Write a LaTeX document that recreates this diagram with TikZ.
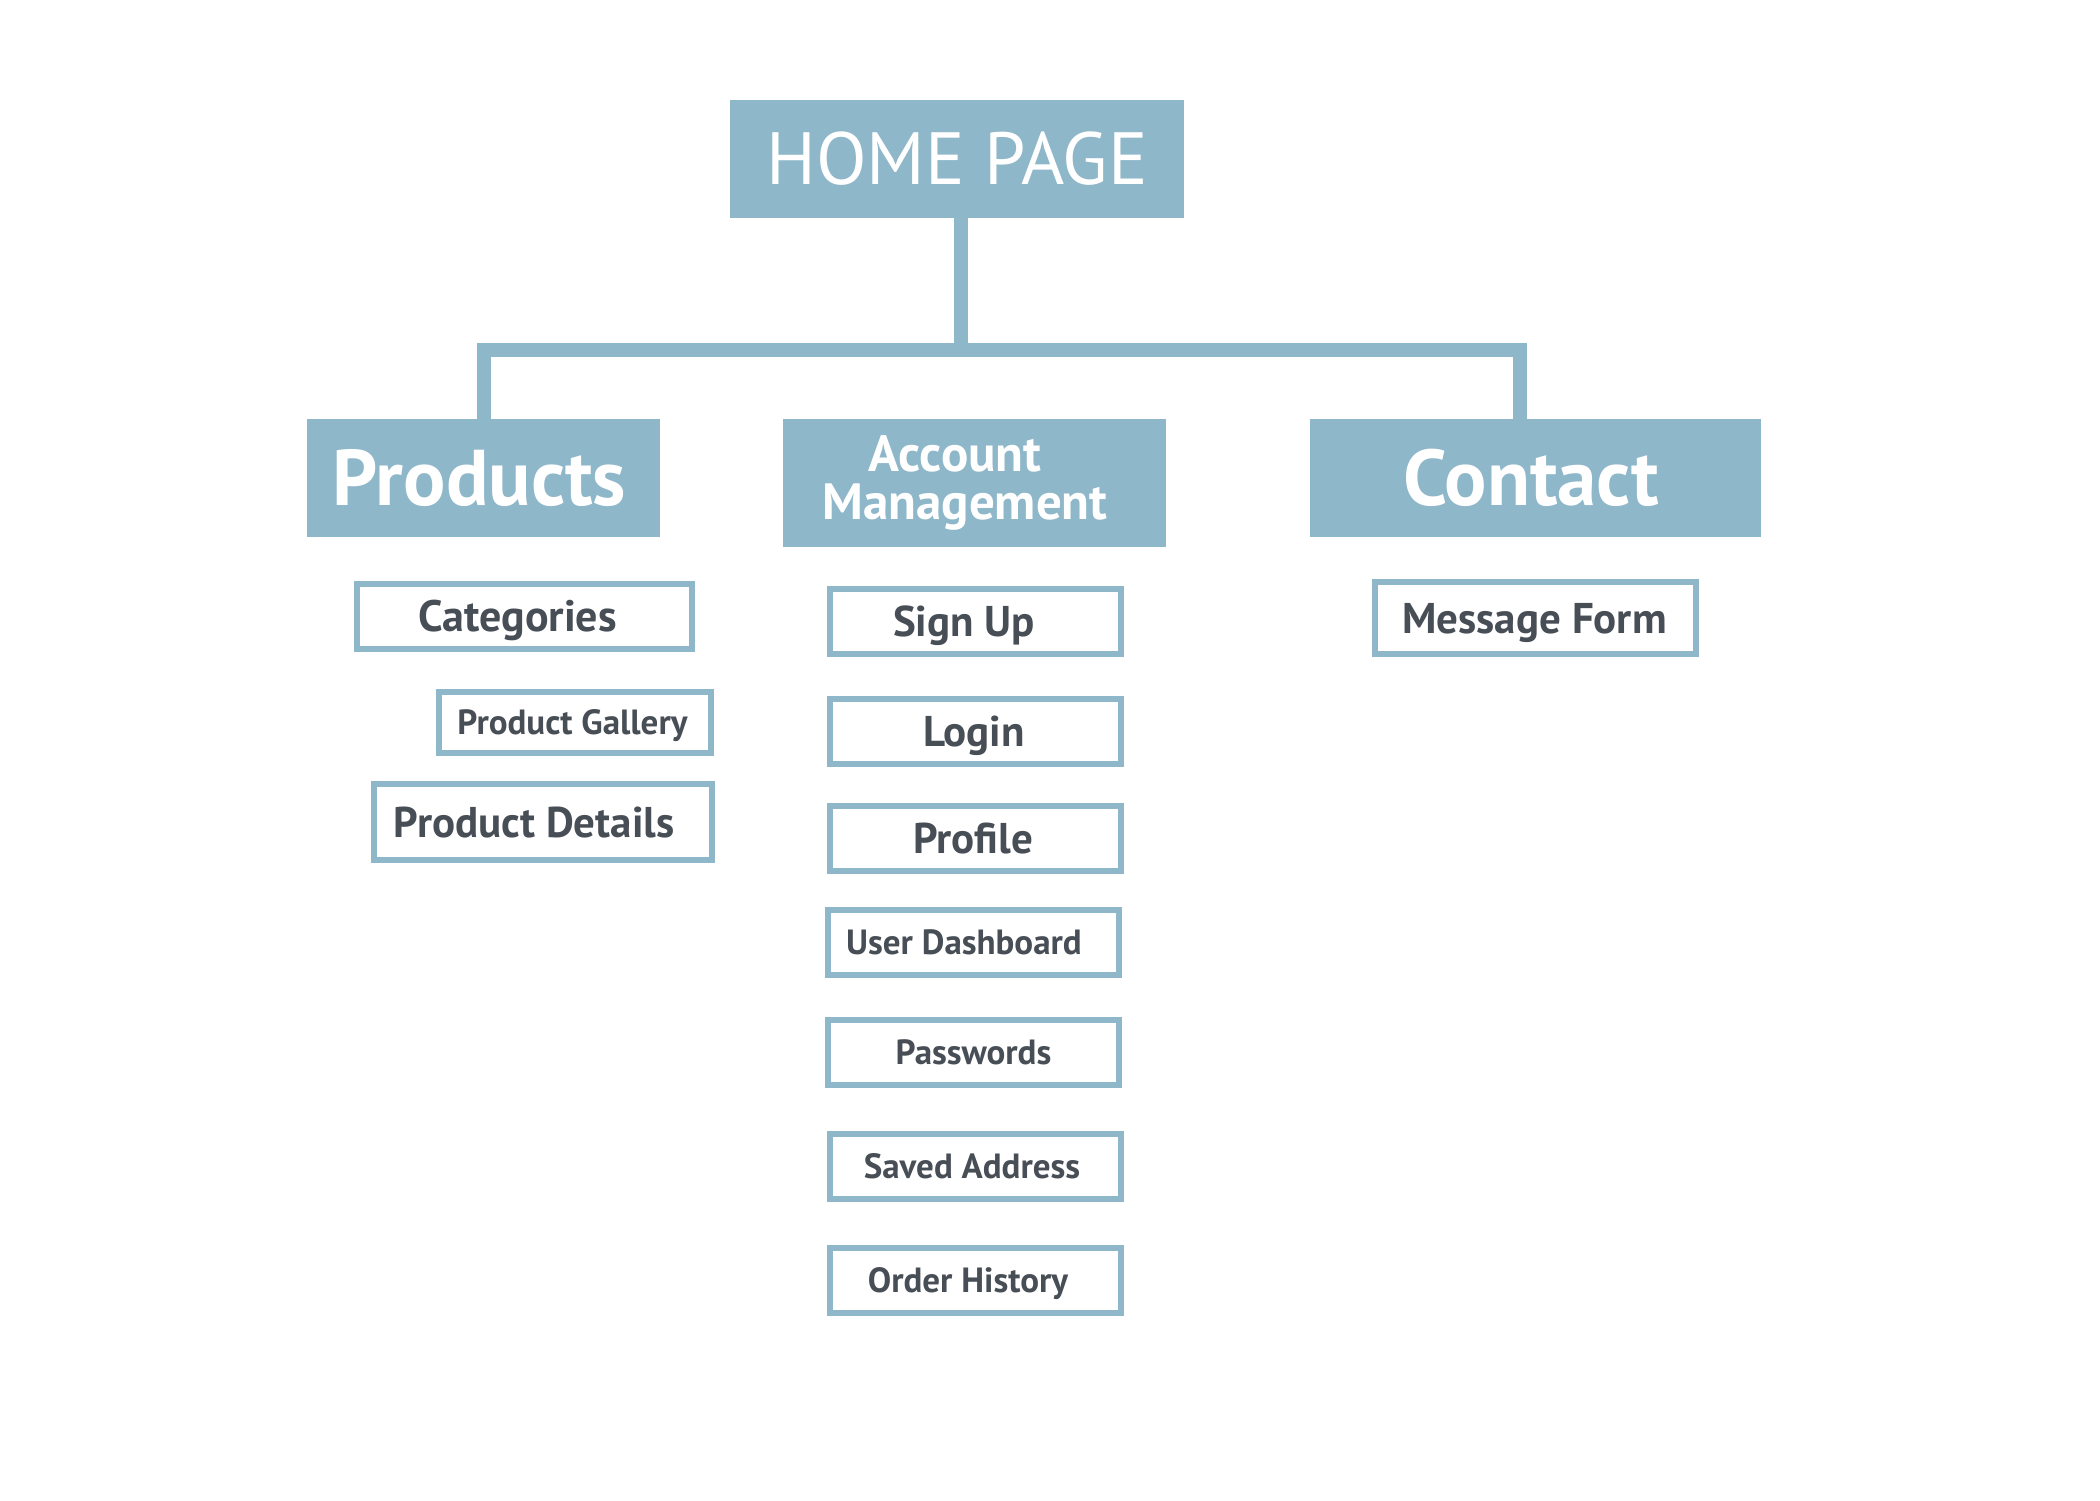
\documentclass[tikz,border=0pt]{standalone}
\usepackage{fontspec}
\setmainfont{PT Sans}
\definecolor{boxblue}{HTML}{8EB7C9}
\definecolor{inkgray}{HTML}{484E56}
\begin{document}
\begin{tikzpicture}[x=1pt,y=-1pt,
  section/.style={fill=boxblue,draw=none,text=white,inner sep=0pt,text depth=0pt},
  page/.style={draw=boxblue,line width=5.7pt,fill=white,text=inkgray,
    inner sep=0pt,text depth=0pt},
  % moves the label left by half the given space inside its frame
  nudge/.style={execute at end node={\hspace*{#1}}},
  link/.style={draw=boxblue,line width=14pt,line join=miter}]
\useasboundingbox[fill=white] (0,0) rectangle (2100,1500);

% top level
\node[section,minimum width=454pt,minimum height=118pt,text height=51.8pt,
  font=\fontsize{74}{80}\selectfont] (home) at (957,159) {HOME PAGE};

% main sections
\node[section,minimum width=353pt,minimum height=118pt,text height=55.3pt,
  font=\bfseries\fontsize{79}{80}\selectfont,nudge=8pt] (products) at (483.5,478) {Products};
\node[section,minimum width=383pt,minimum height=128pt,align=center,
  text depth=,
  font=\bfseries\fontsize{51}{48}\selectfont] (account) at (974.5,483)
  {Account\hspace*{39pt}\\Management\hspace*{19pt}};
\node[section,minimum width=451pt,minimum height=118pt,text height=55.3pt,
  font=\bfseries\fontsize{79}{80}\selectfont,nudge=9pt] (contact) at (1535.5,478) {Contact};

% connectors
\coordinate (bar) at (960.5,349.5);
\draw[link] ([xshift=3.5pt]home.south) -- (bar);
\draw[link] (products.north) |- (bar) -| ([xshift=-16pt]contact.north);

% products pages
\node[page,minimum width=335.3pt,minimum height=65.3pt,text height=30.8pt,
  font=\bfseries\fontsize{44}{44}\selectfont,nudge=14pt] (categories) at (524.5,616.5) {Categories};
\node[page,minimum width=272.3pt,minimum height=61.3pt,text height=24.5pt,
  font=\bfseries\fontsize{35}{35}\selectfont,nudge=5pt] (gallery) at (575,722.5) {Product Gallery};
\node[page,minimum width=338.3pt,minimum height=76.3pt,text height=30.1pt,
  font=\bfseries\fontsize{43}{43}\selectfont,nudge=18pt] (details) at (543,822) {Product Details};

% account pages
\node[page,minimum width=291.3pt,minimum height=65.1pt,text height=30.1pt,
  font=\bfseries\fontsize{43}{43}\selectfont,nudge=23pt] (signup) at (975.5,621.4) {Sign Up};
\node[page,minimum width=291.3pt,minimum height=65.1pt,text height=30.1pt,
  font=\bfseries\fontsize{43}{43}\selectfont,nudge=3pt] (login) at (975.5,731.4) {Login};
\node[page,minimum width=291.3pt,minimum height=65.1pt,text height=30.1pt,
  font=\bfseries\fontsize{43}{43}\selectfont,nudge=5pt] (profile) at (975.5,838.3) {Profile};
\node[page,minimum width=291.3pt,minimum height=65.3pt,text height=24.5pt,
  font=\bfseries\fontsize{35}{35}\selectfont,nudge=19pt] (dashboard) at (973.5,942.5) {User Dashboard};
\node[page,minimum width=291.3pt,minimum height=65.3pt,text height=24.5pt,
  font=\bfseries\fontsize{35}{35}\selectfont] (passwords) at (973.5,1052.5) {Passwords};
\node[page,minimum width=291.3pt,minimum height=65.3pt,text height=24.5pt,
  font=\bfseries\fontsize{35}{35}\selectfont,nudge=7pt] (address) at (975.5,1166.5) {Saved Address};
\node[page,minimum width=291.3pt,minimum height=65.3pt,text height=24.5pt,
  font=\bfseries\fontsize{35}{35}\selectfont,nudge=15pt] (history) at (975.5,1280.5) {Order History};

% contact pages
\node[page,minimum width=321.3pt,minimum height=72.3pt,text height=30.1pt,
  font=\bfseries\fontsize{43}{43}\selectfont,nudge=2pt] (message) at (1535.5,618) {Message Form};
\end{tikzpicture}
\end{document}
